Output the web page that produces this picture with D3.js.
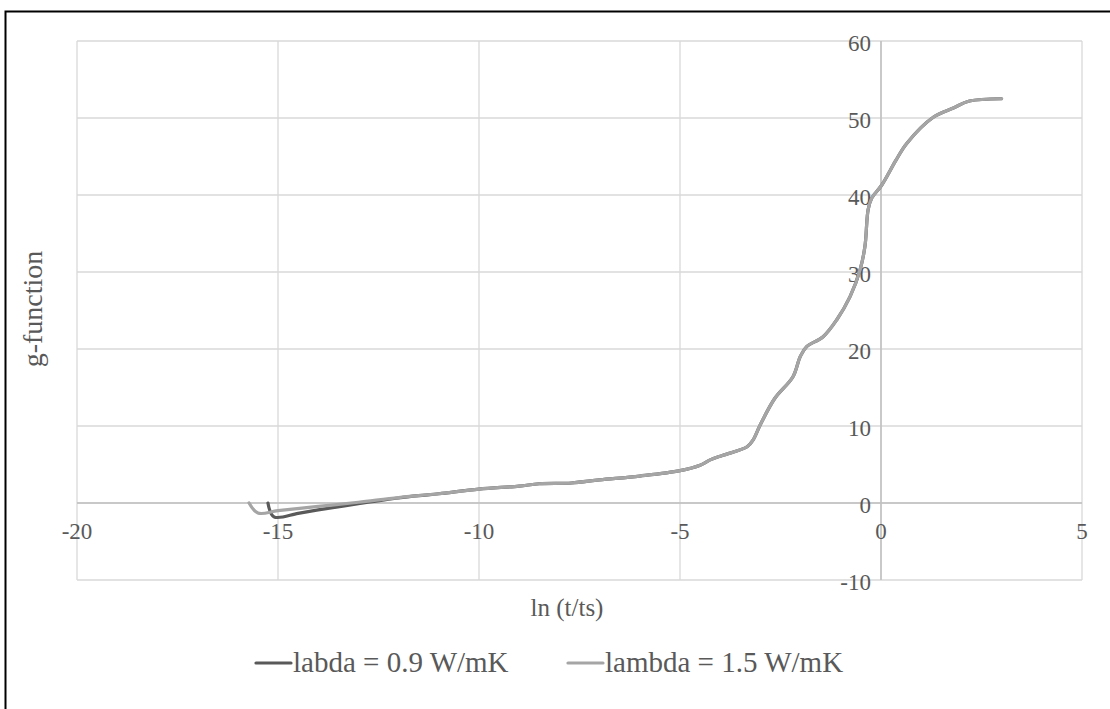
<!DOCTYPE html>
<html>
<head>
<meta charset="utf-8">
<script src="https://cdn.jsdelivr.net/npm/d3@7"></script>
<style>
  body { margin: 0; background: #fff; }
  svg text { font-family: "Liberation Serif", "Times New Roman", serif; fill: #595959; }
</style>
</head>
<body>
<svg id="chart" width="1110" height="709"></svg>
<script>
// ln(t/ts) and g-function values
var xLabda09 = [-15.25, -15.1, -14.5, -14, -13, -12, -11.5, -11, -10, -9, -8.5, -7.7, -7, -6, -5, -4.5, -4.25, -3.93, -3.33, -3.18, -3.0, -2.64, -2.19, -2.01, -1.85, -1.44, -1.1, -0.77, -0.52, -0.4, -0.32, -0.23, 0.02, 0.37, 0.64, 1.3, 1.8, 2.2, 3.0]
var yLabda09 = [0, -1.8, -1.35, -0.9, -0.1, 0.65, 0.95, 1.2, 1.8, 2.2, 2.5, 2.6, 3.0, 3.5, 4.2, 4.9, 5.6, 6.2, 7.3, 8.2, 10.2, 13.6, 16.4, 19.0, 20.3, 21.6, 23.8, 26.8, 30.3, 33.3, 38.1, 39.6, 41.3, 44.5, 46.7, 50.1, 51.3, 52.2, 52.5]

var xLambda15 = [-15.72, -15.5, -15, -14, -13, -12, -11, -10, -9, -8.5, -7.7, -7, -6, -5, -4.5, -4.25, -3.93, -3.33, -3.18, -3.0, -2.64, -2.19, -2.01, -1.85, -1.44, -1.1, -0.77, -0.52, -0.4, -0.32, -0.23, 0.02, 0.37, 0.64, 1.3, 1.8, 2.2, 3.0]
var yLambda15 = [0, -1.3, -1.0, -0.45, 0.1, 0.7, 1.2, 1.8, 2.2, 2.5, 2.6, 3.0, 3.5, 4.2, 4.9, 5.6, 6.2, 7.3, 8.2, 10.2, 13.6, 16.4, 19.0, 20.3, 21.6, 23.8, 26.8, 30.3, 33.3, 38.1, 39.6, 41.3, 44.5, 46.7, 50.1, 51.3, 52.2, 52.5]

var xTicks = [-20, -15, -10, -5, 0, 5]
var yTicks = [-10, 0, 10, 20, 30, 40, 50, 60]

var seriesNames = ['labda = 0.9 W/mK', 'lambda = 1.5 W/mK']
var seriesColors = ['#595959', '#a5a5a5']

var series = [
  { name: seriesNames[0], color: seriesColors[0], pts: xLabda09.map(function(x, i){ return [x, yLabda09[i]] }) },
  { name: seriesNames[1], color: seriesColors[1], pts: xLambda15.map(function(x, i){ return [x, yLambda15[i]] }) }
]

var svg = d3.select('#chart')
var plotL = 77, plotR = 1082, plotT = 41, plotB = 580

var x = d3.scaleLinear().domain([-20, 5]).range([plotL, plotR])
var y = d3.scaleLinear().domain([-10, 60]).range([plotB, plotT])

// outer chart border
svg.append('rect')
  .attr('x', 5.5).attr('y', 11.5)
  .attr('width', 1200).attr('height', 900)
  .attr('fill', 'none').attr('stroke', '#000').attr('stroke-width', 2)

// gridlines
svg.append('g').selectAll('line').data(xTicks).enter().append('line')
  .attr('x1', function(d){ return x(d) }).attr('x2', function(d){ return x(d) })
  .attr('y1', plotT).attr('y2', plotB)
  .attr('stroke', '#d9d9d9').attr('stroke-width', 1.3)
svg.append('g').selectAll('line').data(yTicks).enter().append('line')
  .attr('x1', plotL).attr('x2', plotR)
  .attr('y1', function(d){ return y(d) }).attr('y2', function(d){ return y(d) })
  .attr('stroke', '#d9d9d9').attr('stroke-width', 1.3)

// axis lines crossing at zero
svg.append('line').attr('x1', plotL).attr('x2', plotR).attr('y1', y(0)).attr('y2', y(0))
  .attr('stroke', '#bfbfbf').attr('stroke-width', 1.5)
svg.append('line').attr('x1', x(0)).attr('x2', x(0)).attr('y1', plotT).attr('y2', plotB)
  .attr('stroke', '#bfbfbf').attr('stroke-width', 1.5)

// tick labels
svg.append('g').selectAll('text').data(xTicks).enter().append('text')
  .attr('x', function(d){ return x(d) }).attr('y', y(0) + 36)
  .attr('text-anchor', 'middle').style('font-size', '23px')
  .text(function(d){ return d })
svg.append('g').selectAll('text').data(yTicks).enter().append('text')
  .attr('x', x(0) - 10).attr('y', function(d){ return y(d) + 10 })
  .attr('text-anchor', 'end').style('font-size', '23px')
  .text(function(d){ return d })

// lines
var line = d3.line()
  .x(function(d){ return x(d[0]) })
  .y(function(d){ return y(d[1]) })
  .curve(d3.curveCatmullRom.alpha(0.5))

svg.append('g').selectAll('path').data(series).enter().append('path')
  .attr('d', function(d){ return line(d.pts) })
  .attr('fill', 'none')
  .attr('stroke', function(d){ return d.color })
  .attr('stroke-width', 3.2)
  .attr('stroke-linejoin', 'round')
  .attr('stroke-linecap', 'round')

// axis titles
svg.append('text').attr('x', 567).attr('y', 616)
  .attr('text-anchor', 'middle').style('font-size', '25px')
  .text('ln (t/ts)')
svg.append('text')
  .attr('transform', 'translate(42,' + 309 + ') rotate(-90)')
  .attr('text-anchor', 'middle').style('font-size', '28px')
  .text('g-function')

// legend
var legendPos = [256, 568]
var lg = svg.append('g').selectAll('g').data(series).enter().append('g')
  .attr('transform', function(d, i){ return 'translate(' + legendPos[i] + ',663)' })
lg.append('line').attr('x1', 0).attr('x2', 35).attr('y1', 0).attr('y2', 0)
  .attr('stroke', function(d){ return d.color }).attr('stroke-width', 3.2)
  .attr('stroke-linecap', 'round')
lg.append('text').attr('x', 37).attr('y', 9)
  .style('font-size', '29px')
  .text(function(d){ return d.name })
</script>
</body>
</html>
